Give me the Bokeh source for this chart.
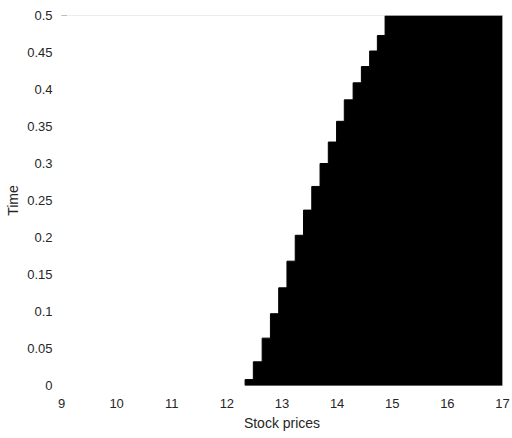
from bokeh.plotting import figure
from bokeh.models import LinearAxis, FixedTicker, Range1d, Span
from bokeh.embed import file_html
from bokeh.resources import INLINE

# Price grid limits
s_min = 9
s_max = 17
t_max = 0.5

# Left edge of the black region for each time band (staircase boundary)
boundary_price = [12.33, 12.48, 12.64, 12.79, 12.94, 13.09, 13.24, 13.39, 13.54,
                  13.69, 13.84, 13.99, 14.13, 14.29, 14.44, 14.59, 14.73, 14.87]
# Time levels where the boundary steps to the next price
time_breaks = [0.0, 0.008, 0.032, 0.064, 0.097, 0.132, 0.168, 0.203, 0.237, 0.269,
               0.300, 0.329, 0.357, 0.386, 0.409, 0.431, 0.452, 0.473, 0.5]

x_ticks = [9, 10, 11, 12, 13, 14, 15, 16, 17]
y_ticks = [0, 0.05, 0.1, 0.15, 0.2, 0.25, 0.3, 0.35, 0.4, 0.45, 0.5]
y_tick_labels = ["0", "0.05", "0.1", "0.15", "0.2", "0.25", "0.3", "0.35", "0.4", "0.45", "0.5"]

# Build the outline of the region right of the staircase
xs, ys = [], []
for i, s in enumerate(boundary_price):
    xs += [s, s]
    ys += [time_breaks[i], time_breaks[i + 1]]
xs += [s_max, s_max]
ys += [time_breaks[-1], time_breaks[0]]

TEXT = "#262626"
FONT = "Liberation Sans"

p = figure(frame_width=441, frame_height=370,
           min_border_left=61, min_border_top=15, min_border_right=10, min_border_bottom=53,
           x_range=Range1d(s_min, s_max), y_range=Range1d(0, t_max),
           output_backend="svg", toolbar_location=None, y_axis_location=None)
p.grid.visible = False
p.outline_line_color = None
p.background_fill_color = "white"
p.border_fill_color = "white"

# light box edges on top and right
p.add_layout(Span(location=t_max, dimension="width", line_color="#dcdcdc", line_width=1))
p.add_layout(Span(location=s_max, dimension="height", line_color="#dcdcdc", line_width=1))

p.patch(xs, ys, fill_color="black", line_color="black", line_width=1)

# small tick at the top of the time axis
p.scatter([s_min], [t_max], marker="dash", size=11, line_color="#404040", line_width=1)

# x axis
xa = p.xaxis[0]
xa.ticker = FixedTicker(ticks=x_ticks)
xa.axis_line_color = None
xa.major_tick_line_color = None
xa.minor_tick_line_color = None
xa.major_label_standoff = 7
xa.major_label_text_font = FONT
xa.major_label_text_font_size = "13px"
xa.major_label_text_color = TEXT
xa.axis_label = "Stock prices"
xa.axis_label_standoff = 4
xa.axis_label_text_font = FONT
xa.axis_label_text_font_size = "14px"
xa.axis_label_text_font_style = "normal"
xa.axis_label_text_color = TEXT

# labelled time axis
ya = LinearAxis(ticker=FixedTicker(ticks=y_ticks),
                major_label_overrides={t: l for t, l in zip(y_ticks, y_tick_labels)},
                axis_line_color=None, major_tick_line_color=None, minor_tick_line_color=None,
                major_label_standoff=3, major_label_text_font=FONT,
                major_label_text_font_size="13px", major_label_text_color=TEXT,
                axis_label="Time", axis_label_standoff=3, axis_label_text_font=FONT,
                axis_label_text_font_size="14px", axis_label_text_font_style="normal",
                axis_label_text_color=TEXT)
p.add_layout(ya, "left")

open("out.html", "w").write(file_html(p, INLINE))
